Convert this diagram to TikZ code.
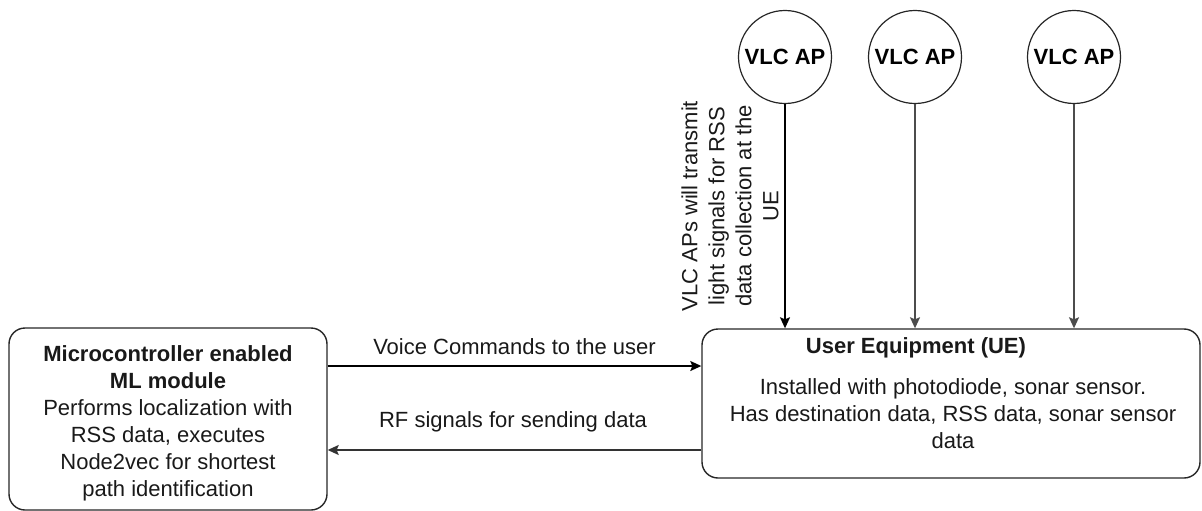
\documentclass[tikz,border=0pt]{standalone}
\usepackage{fontspec}
\setmainfont{Liberation Sans}
\usetikzlibrary{arrows.meta}
\tikzset{
  box/.style={draw=black!85, line width=1.4pt, rounded corners=16pt, inner sep=0pt},
  apnode/.style={draw=black!85, line width=1.2pt, circle, minimum size=93pt, inner sep=0pt, font=\fontsize{22}{26}\selectfont\bfseries},
  txt/.style={align=center, inner sep=0pt, font=\fontsize{22}{27}\selectfont, text=black!90},
  link/.style={line width=1.4pt, -{Stealth[length=11pt,width=10pt,inset=2pt]}},
}
\begin{document}
\begin{tikzpicture}[x=1pt,y=-1pt]
\useasboundingbox (0,0) rectangle (1202,511);
% boxes
\node[box, minimum width=318pt, minimum height=182pt] (ml) at (168,419) {};
\node[box, minimum width=498pt, minimum height=149pt] (ue) at (951,403.5) {};
% circles
\node[apnode] (ap1) at (785,57) {VLC AP};
\node[apnode] (ap2) at (915,57) {VLC AP};
\node[apnode] (ap3) at (1074,57) {VLC AP};
% texts
\node[txt] (mltext) at (168,423) {\textbf{Microcontroller enabled}\\\textbf{ML module}\\Performs localization with\\RSS data, executes\\Node2vec for shortest\\path identification};
\node[txt, font=\fontsize{22}{27}\selectfont\bfseries] (uetitle) at (916,348) {User Equipment (UE)};
\node[txt] (uebody) at (953,414) {Installed with photodiode, sonar sensor.\\Has destination data, RSS data, sonar sensor\\data};
\node[txt, rotate=90] (aptext) at (730,206) {VLC APs will transmit\\light signals for RSS\\data collection at the\\UE};
% connectors
\draw[link, black] (ml.east |- 0,366) -- (ue.west |- 0,366)
  node[txt, midway, above=11pt] (voice) {Voice Commands to the user};
\draw[link, black!80] (ue.west |- 0,450) -- (ml.east |- 0,450);
\node[txt] (rf) at (513,422) {RF signals for sending data};
\draw[link, black] (ap1.south) -- (ap1.south |- ue.north);
\draw[link, black!70] (ap2.south) -- (ap2.south |- ue.north);
\draw[link, black!70] (ap3.south) -- (ap3.south |- ue.north);
\end{tikzpicture}
\end{document}
